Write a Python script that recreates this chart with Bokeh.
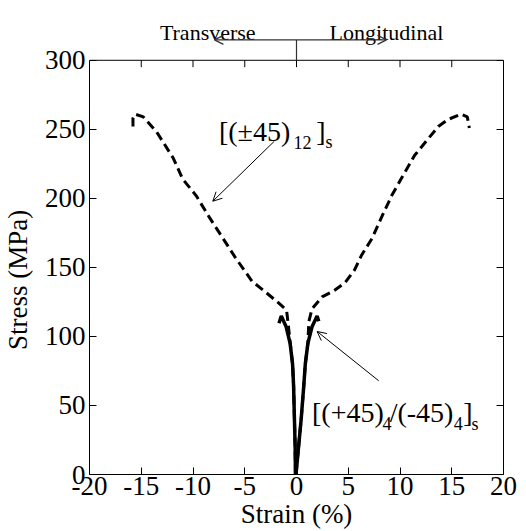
import math
from bokeh.plotting import figure
from bokeh.models import Label, Arrow, OpenHead, LinearAxis, FixedTicker, Range1d, Span
from bokeh.embed import file_html
from bokeh.resources import INLINE

# ---------------- data ----------------
x_ticks = [-20, -15, -10, -5, 0, 5, 10, 15, 20]
x_tick_labels = ["-20", "-15", "-10", "-5", "0", "5", "10", "15", "20"]
y_ticks = [0, 50, 100, 150, 200, 250, 300]
y_tick_labels = ["0", "50", "100", "150", "200", "250", "300"]

# [(+-45)12]s  (dashed) - transverse branch (negative strain)
pm45_trans_strain = [-0.1, -0.13, -0.2, -0.28, -0.38, -0.6, -0.83, -0.96, -1.85, -3.13,
                     -4.3, -5.9, -7.1, -8.4, -9.7, -11.0, -11.9, -13.5, -14.8, -15.6,
                     -15.8, -15.8]
pm45_trans_stress = [0, 20, 40, 64, 80, 95, 110.7, 119, 125, 133,
                     140, 157, 171, 186, 202, 214, 229, 248, 259, 261,
                     258, 249]
# [(+-45)12]s  (dashed) - longitudinal branch (positive strain)
pm45_long_strain = [-0.05, 0.2, 0.45, 0.7, 0.85, 1.1, 1.19, 1.5, 2.47, 3.6, 4.7, 5.6,
                    6.3, 7.3, 8.2, 9.2, 10.1, 11.4, 12.7, 13.7, 14.6, 15.9, 16.5, 16.7]
pm45_long_stress = [0, 20, 40, 64, 80, 95, 110.7, 120, 128.6, 133, 139, 148,
                    159, 171, 186, 202, 214, 231, 243, 252, 257, 261, 259, 251]

# [(+45)4/(-45)4]s  (solid)
blk_trans_strain = [-0.1, -0.13, -0.2, -0.28, -0.38, -0.62, -1.0, -1.47, -1.69]
blk_trans_stress = [0, 20, 40, 64, 80, 95, 107, 114.8, 109.5]
blk_long_strain = [-0.05, 0.2, 0.45, 0.7, 0.85, 1.1, 1.5, 1.99, 2.15]
blk_long_stress = [0, 20, 40, 64, 80, 95, 107, 114.8, 111]

FONT = "Liberation Serif"
Y_TOP = 300  # top of the drawn box

p = figure(width=526, height=531, x_range=Range1d(-20, 20), y_range=Range1d(0, 340.4),
           output_backend="svg", toolbar_location=None,
           min_border_left=86, min_border_right=23, min_border_top=4, min_border_bottom=55)
p.grid.visible = False
p.outline_line_color = None
p.background_fill_color = "white"
p.border_fill_color = "white"

def style_axis(ax, ticks, labels, size, standoff):
    ax.ticker = FixedTicker(ticks=ticks)
    ax.major_label_overrides = {t: l for t, l in zip(ticks, labels)}
    ax.major_tick_in = 7
    ax.major_tick_out = 0
    ax.minor_tick_line_color = None
    ax.axis_line_color = "black"
    ax.major_tick_line_color = "black"
    ax.major_label_standoff = standoff
    ax.major_label_text_font = FONT
    ax.major_label_text_color = "black"
    ax.major_label_text_font_size = size

xa = p.xaxis[0]
style_axis(xa, x_ticks, x_tick_labels, "27px", 2)
xa.axis_label = "Strain (%)"
xa.axis_label_text_font = FONT
xa.axis_label_text_font_style = "normal"
xa.axis_label_text_font_size = "27px"
xa.axis_label_text_color = "black"
xa.axis_label_standoff = 1

ya = p.yaxis[0]
style_axis(ya, y_ticks, y_tick_labels, "27px", 4)
ya.bounds = (0, Y_TOP)

right_ax = LinearAxis(bounds=(0, Y_TOP))
style_axis(right_ax, y_ticks, [""] * len(y_ticks), "0px", 0)
p.add_layout(right_ax, "right")

# y title drawn as the single label of an outer left axis
ytitle = LinearAxis(ticker=FixedTicker(ticks=[141]), major_label_overrides={141: "Stress (MPa)"},
                    major_label_orientation="vertical", major_label_text_font=FONT,
                    major_label_text_font_size="27px", major_label_text_color="black",
                    major_label_standoff=2, axis_line_color=None, major_tick_line_color=None,
                    minor_tick_line_color=None)
p.add_layout(ytitle, "left")

# top edge of the box with inward ticks
p.add_layout(Span(location=Y_TOP, dimension="width", line_color="black", line_width=1))
p.segment(x0=x_ticks, y0=[Y_TOP] * len(x_ticks), x1=x_ticks, y1=[Y_TOP - 5] * len(x_ticks),
          line_color="black", line_width=1)

# curves
dash_kw = dict(line_color="black", line_width=3, line_dash="9 5")
p.line(pm45_trans_strain, pm45_trans_stress, **dash_kw)
p.line(pm45_long_strain, pm45_long_stress, **dash_kw)
solid_kw = dict(line_color="black", line_width=3.5)
p.line(blk_trans_strain, blk_trans_stress, **solid_kw)
p.line(blk_long_strain, blk_long_stress, **solid_kw)

def lab(x, y, text, size, **kw):
    p.add_layout(Label(x=x, y=y, text=text, text_font=FONT, text_font_size=size,
                       text_color=kw.pop("color", "black"),
                       text_baseline=kw.pop("baseline", "alphabetic"),
                       text_align=kw.pop("align", "left"), **kw))

# top direction indicator
GREY = "#333333"
lab(-13.2, 320.2, "Transverse", "22px")
lab(3.2, 320.2, "Longitudinal", "22px")
p.add_layout(Arrow(end=None, x_start=0, y_start=Y_TOP, x_end=0, y_end=314.8,
                   line_color=GREY, line_width=1.2))
p.add_layout(Arrow(end=OpenHead(size=9, line_width=1.2, line_color=GREY),
                   x_start=0, y_start=314.8, x_end=-7.93, y_end=314.8,
                   line_color=GREY, line_width=1.2))
p.add_layout(Arrow(end=OpenHead(size=9, line_width=1.2, line_color=GREY),
                   x_start=0, y_start=314.8, x_end=8.7, y_end=314.8,
                   line_color=GREY, line_width=1.2))

# annotation [(+-45)12]s
lab(-7.5, 248.6, "[(±45)", "28px")
lab(-0.3, 240.7, "12", "18px")
lab(1.9, 248.6, "]", "28px")
lab(2.8, 240.7, "s", "18px")
p.add_layout(Arrow(end=OpenHead(size=9, line_width=1), x_start=-2.14, y_start=241.4,
                   x_end=-8.09, y_end=197.9, line_width=1, line_color="black"))

# annotation [(+45)4/(-45)4]s
lab(1.5, 45.2, "[(+45)", "28px")
lab(8.3, 36.9, "4", "18px")
lab(9.0, 45.2, "/(-45)", "28px")
lab(15.2, 36.9, "4", "18px")
lab(16.1, 45.2, "]", "28px")
lab(16.9, 36.9, "s", "18px")
p.add_layout(Arrow(end=OpenHead(size=9, line_width=1), x_start=7.94, y_start=67.9,
                   x_end=1.99, y_end=103.6, line_width=1, line_color="black"))

open("out.html", "w").write(file_html(p, INLINE))
